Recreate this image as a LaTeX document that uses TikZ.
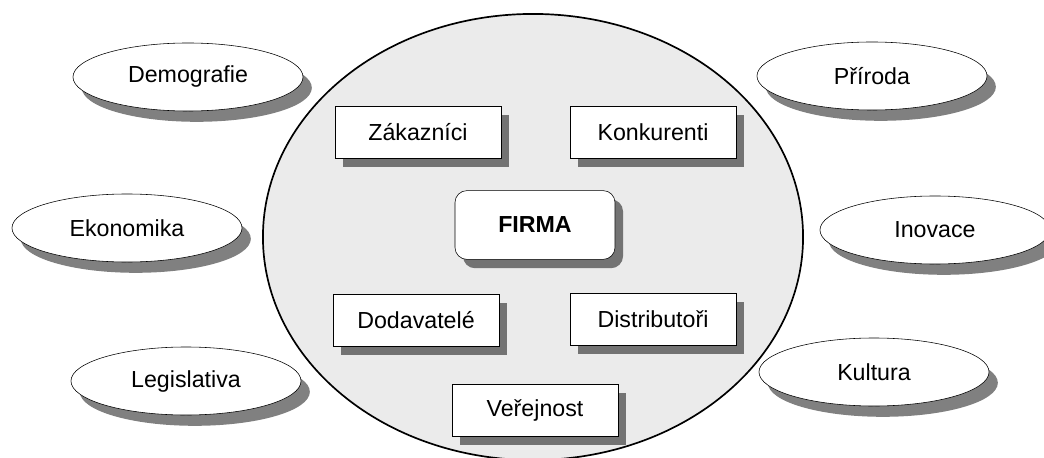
\documentclass[tikz,border=0pt]{standalone}
\usepackage{fontspec}
\setmainfont{Liberation Sans}
\usetikzlibrary{shapes.geometric,shadows}

\begin{document}
\begin{tikzpicture}[x=0.025cm,y=-0.025cm,
  every node/.style={font=\fontsize{16.5}{20}\selectfont},
  vliv/.style={ellipse,draw,thin,fill=white,minimum width=5.75cm,minimum height=1.7cm,inner sep=0pt,
    drop shadow={shadow xshift=0.22cm,shadow yshift=-0.27cm,fill=black!50,opacity=1}},
  aktor/.style={rectangle,draw,thin,fill=white,minimum width=4.15cm,minimum height=1.3cm,
    drop shadow={shadow xshift=0.2cm,shadow yshift=-0.22cm,fill=black!55,opacity=1}}]
\useasboundingbox (0,0) rectangle (1044,458);

\node[ellipse,draw,line width=1.2pt,fill=black!8,minimum width=13.5cm,minimum height=11.15cm] (okoli) at (533,237) {};

\node[vliv] (demografie) at (188,77) {Demografie};
\node[vliv] (ekonomika) at (127,228) {Ekonomika};
\node[vliv] (legislativa) at (186,381) {Legislativa};
\node[vliv] (priroda) at (872,76) {Příroda};
\node[vliv] (inovace) at (935,230) {Inovace};
\node[vliv] (kultura) at (874,372) {Kultura};

\node[aktor] (zakaznici) at (418,132) {Zákazníci};
\node[aktor] (konkurenti) at (653,132) {Konkurenti};
\node[aktor,rounded corners=0.3cm,minimum width=4.0cm,minimum height=1.72cm,font=\fontsize{16.5}{20}\selectfont\bfseries] (firma) at (535,225) {FIRMA};
\node[aktor] (dodavatele) at (416,320) {Dodavatelé};
\node[aktor] (distributori) at (653,319) {Distributoři};
\node[aktor] (verejnost) at (535,410) {Veřejnost};
\end{tikzpicture}
\end{document}
